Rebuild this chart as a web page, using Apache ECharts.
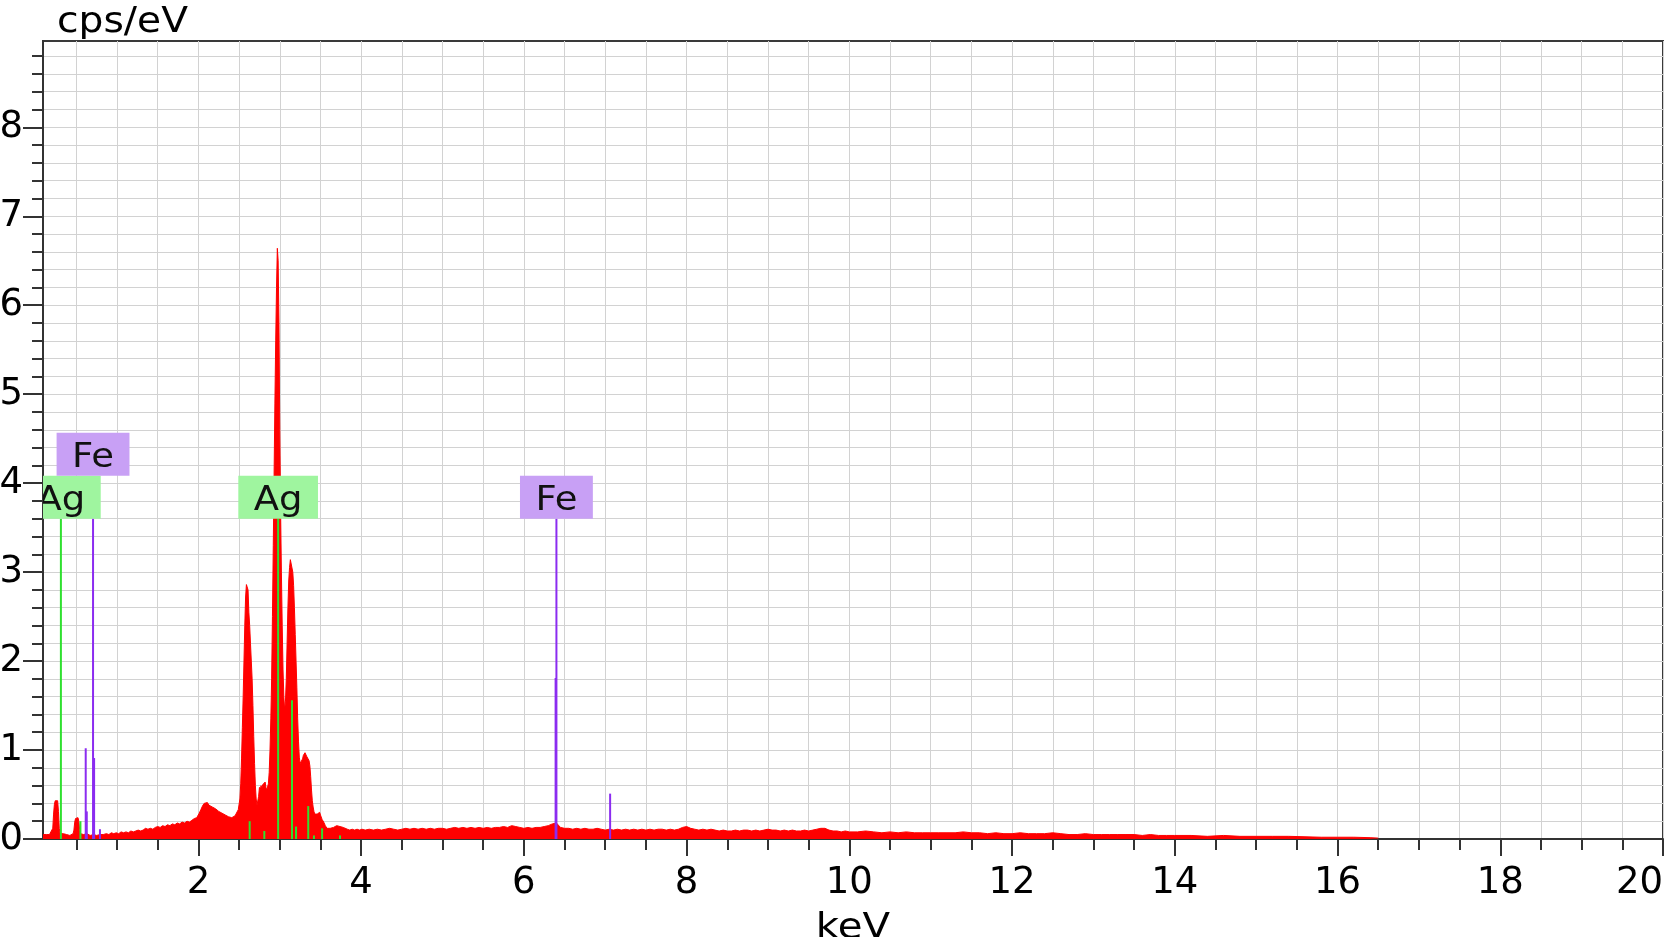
<!DOCTYPE html>
<html><head><meta charset="utf-8">
<script src="https://cdn.jsdelivr.net/npm/echarts@6/dist/echarts.min.js"></script>
<style>html,body{margin:0;padding:0;background:#fff}#c{width:1667px;height:937px}</style>
</head><body><div id="c"></div>
<script>
// ---- data ----
const energyKeV = [
0.09,0.11,0.13,0.15,0.17,0.19,0.21,0.22,0.23,0.24,0.25,0.26,0.27,0.28,0.29,0.30,0.32,0.34,0.36,0.38,0.40,0.42,0.44,0.46,0.47,0.48,0.49,0.50,0.51,0.52,0.53,0.54,0.55,0.57,0.59,0.61,0.63,0.65,0.67,0.69,0.71,0.73,0.75,0.77,0.79,0.81,0.83,0.85,0.87,0.90,0.93,0.96,0.99,1.02,1.05,1.08,1.11,1.14,1.17,1.20,1.23,1.26,1.29,1.32,1.35,1.38,1.41,1.44,1.47,1.50,1.53,1.56,1.59,1.62,1.65,1.68,1.71,1.74,1.77,1.80,1.83,1.86,1.89,1.92,1.95,1.98,2.01,2.03,2.05,2.07,2.09,2.11,2.13,2.15,2.17,2.19,2.21,2.23,2.25,2.27,2.29,2.31,2.33,2.35,2.37,2.39,2.41,2.43,2.45,2.47,2.49,2.51,2.52,2.53,2.54,2.55,2.56,2.57,2.58,2.59,2.60,2.61,2.62,2.63,2.64,2.65,2.66,2.67,2.68,2.69,2.70,2.71,2.72,2.73,2.74,2.75,2.76,2.77,2.78,2.79,2.80,2.81,2.82,2.83,2.84,2.85,2.86,2.87,2.88,2.89,2.90,2.91,2.92,2.93,2.94,2.95,2.96,2.97,2.98,2.99,3.00,3.01,3.02,3.03,3.04,3.05,3.06,3.07,3.08,3.09,3.10,3.11,3.12,3.13,3.14,3.15,3.16,3.17,3.18,3.19,3.20,3.21,3.22,3.23,3.24,3.25,3.26,3.27,3.28,3.29,3.30,3.31,3.32,3.33,3.34,3.35,3.36,3.37,3.38,3.39,3.40,3.41,3.42,3.43,3.44,3.45,3.46,3.47,3.48,3.49,3.50,3.51,3.52,3.54,3.56,3.58,3.60,3.62,3.64,3.66,3.68,3.70,3.72,3.74,3.76,3.78,3.80,3.83,3.86,3.89,3.92,3.95,3.98,4.01,
4.05,4.10,4.15,4.20,4.25,4.30,4.35,4.40,4.45,4.50,4.55,4.60,4.65,4.70,4.75,4.80,4.85,4.90,4.95,5.00,5.05,5.10,5.15,5.20,5.25,5.30,5.35,5.40,5.45,5.50,5.55,5.60,5.65,5.70,5.75,5.80,5.85,5.90,5.95,6.00,6.05,6.10,6.15,6.20,6.25,6.30,6.35,6.40,6.45,6.50,6.55,6.60,6.65,6.70,6.75,6.80,6.85,6.90,6.95,7.00,7.05,7.10,7.15,7.20,7.25,7.30,7.35,7.40,7.45,7.50,7.55,7.60,7.65,7.70,7.75,7.80,7.85,7.90,7.95,8.00,8.05,8.10,8.15,8.20,8.25,8.30,8.35,8.40,8.45,8.50,8.55,8.60,8.65,8.70,8.75,8.80,8.85,8.90,8.95,9.00,9.05,9.10,9.15,9.20,9.25,9.30,9.35,9.40,9.45,9.50,9.55,9.60,9.65,9.70,9.75,9.80,9.85,9.90,9.95,10.0,10.1,10.2,10.3,10.4,10.5,10.6,10.7,10.8,10.9,11.0,11.1,11.2,11.3,11.4,11.5,11.6,11.7,11.8,11.9,12.0,12.1,12.2,12.3,12.4,12.5,12.6,12.7,12.8,12.9,13.0,13.1,13.2,13.3,13.4,13.5,13.6,13.7,13.8,13.9,14.0,14.2,14.4,14.6,14.8,15.0,15.2,15.4,15.6,15.8,16.0,16.2,16.4,16.5];
const countsCps = [
0.05,0.06,0.05,0.06,0.05,0.07,0.12,0.28,0.39,0.43,0.44,0.41,0.43,0.31,0.12,0.06,0.05,0.06,0.04,0.05,0.06,0.04,0.05,0.06,0.10,0.19,0.23,0.25,0.22,0.24,0.20,0.11,0.06,0.04,0.05,0.04,0.06,0.05,0.04,0.06,0.05,0.06,0.04,0.06,0.05,0.06,0.05,0.07,0.06,0.05,0.07,0.06,0.07,0.06,0.08,0.07,0.08,0.07,0.09,0.08,0.09,0.10,0.09,0.10,0.12,0.11,0.12,0.11,0.13,0.14,0.13,0.15,0.14,0.16,0.15,0.17,0.16,0.18,0.17,0.19,0.18,0.20,0.19,0.21,0.23,0.24,0.29,0.33,0.37,0.40,0.39,0.41,0.38,0.39,0.36,0.37,0.34,0.35,0.31,0.32,0.29,0.30,0.27,0.28,0.25,0.26,0.24,0.25,0.26,0.27,0.33,0.45,0.62,0.90,1.25,1.60,2.00,2.40,2.72,2.86,2.88,2.80,2.55,2.40,2.20,2.00,1.80,1.50,1.15,0.85,0.60,0.45,0.38,0.40,0.48,0.58,0.55,0.60,0.57,0.61,0.63,0.60,0.64,0.58,0.55,0.57,0.62,0.75,1.00,1.35,1.80,2.50,3.30,4.10,4.90,5.60,6.20,6.64,6.50,5.80,4.60,3.70,3.00,2.40,1.90,1.60,1.45,1.55,1.80,2.20,2.60,2.90,3.05,3.14,3.16,3.12,3.00,2.85,2.60,2.30,2.00,1.70,1.35,1.10,0.92,0.85,0.84,0.86,0.90,0.94,0.96,0.97,0.95,0.93,0.94,0.92,0.88,0.82,0.70,0.55,0.43,0.36,0.31,0.28,0.27,0.26,0.28,0.30,0.29,0.30,0.27,0.25,0.22,0.19,0.15,0.12,0.10,0.12,0.11,0.13,0.14,0.15,0.16,0.14,0.15,0.13,0.12,0.11,0.10,0.11,0.10,0.11,0.10,0.11,
0.10,0.11,0.10,0.11,0.10,0.11,0.12,0.11,0.10,0.11,0.12,0.11,0.12,0.11,0.12,0.11,0.12,0.11,0.12,0.12,0.11,0.12,0.13,0.12,0.13,0.12,0.13,0.12,0.13,0.12,0.13,0.12,0.13,0.13,0.14,0.13,0.15,0.14,0.13,0.12,0.13,0.12,0.13,0.13,0.14,0.15,0.17,0.18,0.13,0.12,0.12,0.11,0.12,0.11,0.12,0.11,0.11,0.12,0.11,0.10,0.11,0.10,0.11,0.10,0.11,0.10,0.11,0.10,0.11,0.10,0.11,0.10,0.11,0.11,0.10,0.11,0.10,0.11,0.13,0.14,0.12,0.11,0.10,0.11,0.10,0.11,0.10,0.09,0.10,0.09,0.09,0.10,0.09,0.10,0.10,0.09,0.10,0.09,0.10,0.11,0.10,0.10,0.09,0.10,0.09,0.10,0.09,0.09,0.10,0.09,0.10,0.11,0.12,0.12,0.10,0.09,0.09,0.08,0.09,0.08,0.08,0.09,0.08,0.07,0.08,0.07,0.08,0.07,0.07,0.07,0.07,0.07,0.07,0.08,0.07,0.07,0.06,0.07,0.06,0.06,0.07,0.06,0.06,0.06,0.07,0.06,0.05,0.05,0.06,0.05,0.05,0.05,0.05,0.05,0.05,0.04,0.05,0.04,0.04,0.04,0.04,0.03,0.04,0.03,0.03,0.03,0.03,0.025,0.02,0.02,0.02,0.015,0.01];

// element marker lines
const agLineKeV = [0.31, 0.55, 2.63, 2.81, 2.98, 3.15, 3.20, 3.35, 3.42, 3.52, 3.74];
const agLineCps = [3.60, 0.20, 0.20, 0.09, 3.60, 1.56, 0.14, 0.37, 0.04, 0.12, 0.04];
const feLineKeV = [0.615, 0.628, 0.705, 0.718, 0.79, 6.39, 6.40, 7.06];
const feLineCps = [1.02, 0.31, 3.60, 0.91, 0.11, 1.81, 3.60, 0.51];

// element labels
const labelKeV = [0.31, 0.705, 2.98, 6.40];
const labelCps = [3.60, 3.60, 3.60, 3.60];
const labelText = ['Ag', 'Fe', 'Ag', 'Fe'];

// axis ticks
const xMajorTicks = [2, 4, 6, 8, 10, 12, 14, 16, 18, 20];
const yMajorTicks = [0, 1, 2, 3, 4, 5, 6, 7, 8];
const xMinorStep = 0.5, yMinorStep = 0.2;
const xMin = 0.09, xMax = 20, yMin = 0, yMax = 8.97;

// ---- build ----
const xMinorTicks = [];
for (let k = 1; k * xMinorStep <= xMax + 1e-9; k++) xMinorTicks.push(+(k * xMinorStep).toFixed(2));
const yMinorTicks = [];
for (let k = 0; k * yMinorStep <= yMax + 1e-9; k++) yMinorTicks.push(+(k * yMinorStep).toFixed(2));

const spectrum = energyKeV.map((e, i) => [e, countsCps[i]]);
const agLines = agLineKeV.map((e, i) => [e, agLineCps[i]]);
const feLines = feLineKeV.map((e, i) => [e, feLineCps[i]]);
const labels = labelKeV.map((e, i) => [e, labelCps[i], labelText[i]]);

const FONT = '"DejaVu Sans", Verdana, sans-serif';
const elemStyle = {
  Ag: { line: '#2fe02f', box: '#9ff59f' },
  Fe: { line: '#8b2cf0', box: '#c8a0f5' }
};
const BOX_H = 43, BOX_SCALE = 1.12, BOX_PAD = 13.8, LABEL_FS = 33;

const measureCtx = document.createElement('canvas').getContext('2d');
function boxWidth(t) {
  measureCtx.font = LABEL_FS + 'px ' + FONT;
  return (measureCtx.measureText(t).width + 2 * BOX_PAD) * BOX_SCALE;
}

function lineRenderer(color) {
  return function (params, api) {
    const e = api.value(0), h = api.value(1);
    const p0 = api.coord([e, 0]), p1 = api.coord([e, h]);
    return { type: 'line', shape: { x1: p0[0], y1: p0[1], x2: p1[0], y2: p1[1] },
      style: { stroke: color, lineWidth: 2 } };
  };
}

function labelLevel(idx, api) {
  // stack a label above earlier labels it would overlap
  const levels = [];
  for (let i = 0; i <= idx; i++) {
    const pi = api.coord([labelKeV[i], labelCps[i]]);
    const wi = boxWidth(labelText[i]);
    let lv = 0;
    for (let j = 0; j < i; j++) {
      const pj = api.coord([labelKeV[j], labelCps[j]]);
      const wj = boxWidth(labelText[j]);
      if (Math.abs(pi[0] - pj[0]) < (wi + wj) / 2 && levels[j] >= lv) lv = levels[j] + 1;
    }
    levels.push(lv);
  }
  return levels[idx];
}

function labelRenderer(params, api) {
  const idx = params.dataIndex;
  const t = labelText[idx];
  const p = api.coord([labelKeV[idx], labelCps[idx]]);
  const lv = labelLevel(idx, api);
  return {
    type: 'text', x: p[0], y: p[1] - lv * BOX_H, scaleX: BOX_SCALE,
    style: {
      text: t, x: 0, y: 0, align: 'center', verticalAlign: 'bottom',
      font: LABEL_FS + 'px ' + FONT, fill: '#111',
      backgroundColor: elemStyle[t].box, padding: [8, BOX_PAD, 0, BOX_PAD], lineHeight: 35
    }
  };
}

const axisColor = '#333';
const gridColor = '#d2d2d2';

const chart = echarts.init(document.getElementById('c'), null, { renderer: 'canvas' });
chart.setOption({
  animation: false,
  backgroundColor: '#fff',
  grid: { left: 43, right: 4, top: 41, bottom: 98, show: true, borderColor: '#3a3a3a', borderWidth: 2,
          backgroundColor: '#fff', containLabel: false, outerBoundsMode: 'none' },
  xAxis: [
    { type: 'value', min: xMin, max: xMax, position: 'bottom',
      axisLine: { show: true, lineStyle: { color: axisColor, width: 2 } },
      axisTick: { show: true, length: 11, customValues: xMinorTicks, lineStyle: { color: axisColor, width: 2 } },
      axisLabel: { show: false },
      splitLine: { show: true, lineStyle: { color: gridColor, width: 1 } } },
    { type: 'value', min: xMin, max: xMax, position: 'bottom', offset: 0,
      axisLine: { show: false },
      axisTick: { show: true, length: 17, customValues: xMajorTicks, lineStyle: { color: axisColor, width: 2 } },
      axisLabel: { show: true, customValues: xMajorTicks, fontSize: 37, fontFamily: FONT, color: '#000', margin: 26,
                   alignMaxLabel: 'right' },
      splitLine: { show: false } }
  ],
  yAxis: [
    { type: 'value', min: yMin, max: yMax, position: 'left',
      axisLine: { show: true, lineStyle: { color: axisColor, width: 2 } },
      axisTick: { show: true, length: 11, customValues: yMinorTicks, lineStyle: { color: axisColor, width: 2 } },
      axisLabel: { show: false },
      splitLine: { show: true, lineStyle: { color: gridColor, width: 1 } } },
    { type: 'value', min: yMin, max: yMax, position: 'left', offset: 0,
      axisLine: { show: false },
      axisTick: { show: true, length: 20, customValues: yMajorTicks, lineStyle: { color: axisColor, width: 2 } },
      axisLabel: { show: true, customValues: yMajorTicks, fontSize: 37, fontFamily: FONT, color: '#000', margin: 20 },
      splitLine: { show: false } }
  ],
  graphic: [
    { type: 'text', x: 57, y: 5, scaleX: 1.12, silent: true,
      style: { text: 'cps/eV', font: '35px ' + FONT, fill: '#000', align: 'left', verticalAlign: 'top' } },
    { type: 'text', x: 853, y: 911, scaleX: 1.12, silent: true,
      style: { text: 'keV', font: '36px ' + FONT, fill: '#000', align: 'center', verticalAlign: 'top' } }
  ],
  series: [
    { name: 'spectrum', type: 'line', xAxisIndex: 0, yAxisIndex: 0, data: spectrum,
      symbol: 'none', showSymbol: false, sampling: null, z: 2,
      lineStyle: { color: '#ff0000', width: 1 }, itemStyle: { color: '#ff0000' },
      areaStyle: { color: '#ff0000', opacity: 1 } },
    { name: 'Ag lines', type: 'custom', xAxisIndex: 0, yAxisIndex: 0, data: agLines, clip: true, z: 3,
      renderItem: lineRenderer(elemStyle.Ag.line) },
    { name: 'Fe lines', type: 'custom', xAxisIndex: 0, yAxisIndex: 0, data: feLines, clip: true, z: 3,
      renderItem: lineRenderer(elemStyle.Fe.line) },
    { name: 'labels', type: 'custom', xAxisIndex: 0, yAxisIndex: 0, data: labels, clip: true, z: 4,
      renderItem: labelRenderer }
  ]
});
</script></body></html>
